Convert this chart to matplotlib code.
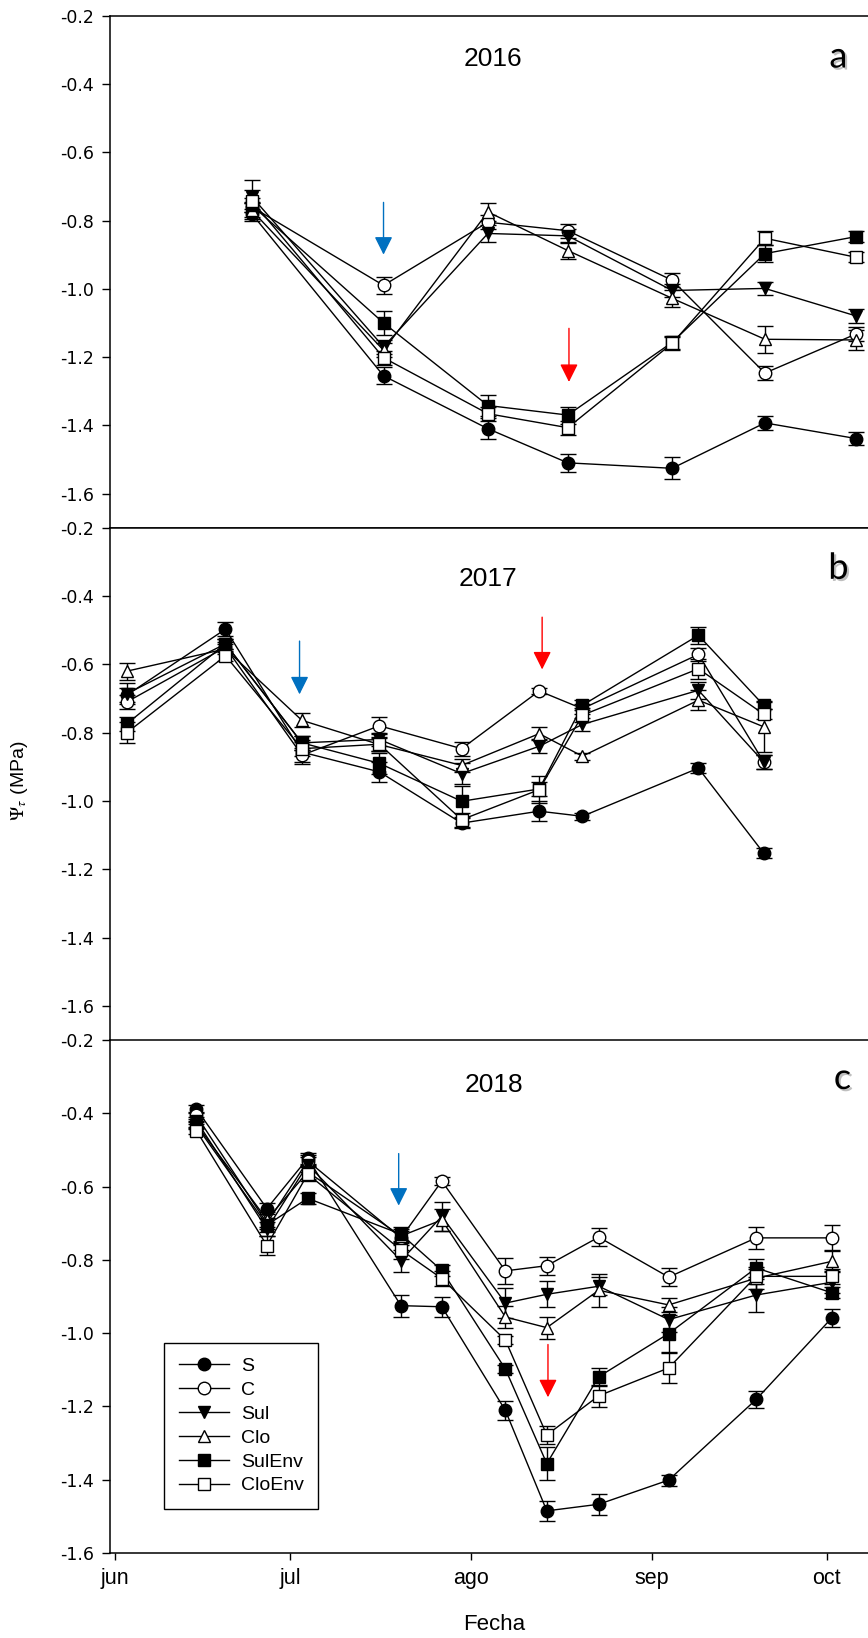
import matplotlib
matplotlib.use("Agg")
import matplotlib.pyplot as plt
import matplotlib.patheffects as pe

plt.rcParams["font.family"] = ["Liberation Sans", "DejaVu Sans"]
plt.rcParams["mathtext.fontset"] = "stix"

SERIES = ["S", "C", "Sul", "Clo", "SulEnv", "CloEnv"]
MARKERS = {"S": ("o", "black"), "C": ("o", "white"), "Sul": ("v", "black"),
           "Clo": ("^", "white"), "SulEnv": ("s", "black"), "CloEnv": ("s", "white")}

# days counted from 1 June
MONTH_TICKS = [0, 30, 61, 92, 122]
MONTH_LABELS = ["jun", "jul", "ago", "sep", "oct"]
Y_TICKS = [-0.2, -0.4, -0.6, -0.8, -1.0, -1.2, -1.4, -1.6]

# 2016
days_2016 = [23.4, 46.0, 63.9, 77.6, 95.5, 111.4, 127.1]
vals_2016 = {
    "S":      [-0.78, -1.255, -1.41, -1.51, -1.526, -1.393, -1.439],
    "C":      [-0.76, -0.99, -0.805, -0.83, -0.975, -1.247, -1.132],
    "Sul":    [-0.73, -1.17, -0.838, -0.845, -1.005, -0.999, -1.08],
    "Clo":    [-0.77, -1.18, -0.775, -0.888, -1.028, -1.148, -1.15],
    "SulEnv": [-0.755, -1.10, -1.342, -1.37, -1.157, -0.897, -0.847],
    "CloEnv": [-0.742, -1.202, -1.366, -1.407, -1.16, -0.852, -0.908],
}
err_2016 = {
    "S":      [0.015, 0.025, 0.03, 0.027, 0.032, 0.02, 0.02],
    "C":      [0.015, 0.025, 0.02, 0.02, 0.02, 0.02, 0.02],
    "Sul":    [0.02, 0.02, 0.025, 0.02, 0.02, 0.02, 0.02],
    "Clo":    [0.02, 0.02, 0.025, 0.025, 0.025, 0.04, 0.03],
    "SulEnv": [0.02, 0.035, 0.03, 0.025, 0.02, 0.025, 0.015],
    "CloEnv": [0.06, 0.02, 0.02, 0.02, 0.02, 0.02, 0.015],
}

# 2017
days_2017 = [2.0, 18.9, 32.0, 45.3, 59.4, 72.7, 80.1, 100.0, 111.2]
vals_2017 = {
    "S":      [-0.69, -0.497, -0.857, -0.915, -1.065, -1.03, -1.045, -0.904, -1.153],
    "C":      [-0.71, -0.55, -0.866, -0.78, -0.847, -0.678, -0.73, -0.571, -0.886],
    "Sul":    [-0.686, -0.54, -0.83, -0.82, -0.92, -0.84, -0.776, -0.676, -0.886],
    "Clo":    [-0.62, -0.555, -0.764, -0.835, -0.896, -0.803, -0.869, -0.705, -0.783],
    "SulEnv": [-0.774, -0.54, -0.83, -0.89, -1.001, -0.965, -0.72, -0.515, -0.72],
    "CloEnv": [-0.80, -0.575, -0.847, -0.834, -1.055, -0.967, -0.749, -0.613, -0.746],
}
err_2017 = {
    "S":      [0.02, 0.02, 0.035, 0.03, 0.015, 0.03, 0.01, 0.015, 0.015],
    "C":      [0.02, 0.015, 0.02, 0.025, 0.02, 0.01, 0.015, 0.02, 0.02],
    "Sul":    [0.03, 0.015, 0.02, 0.02, 0.03, 0.02, 0.02, 0.025, 0.02],
    "Clo":    [0.025, 0.015, 0.02, 0.02, 0.02, 0.02, 0.01, 0.03, 0.075],
    "SulEnv": [0.02, 0.015, 0.02, 0.03, 0.045, 0.02, 0.015, 0.025, 0.01],
    "CloEnv": [0.03, 0.015, 0.02, 0.02, 0.02, 0.04, 0.02, 0.03, 0.015],
}

# 2018
days_2018 = [13.9, 26.0, 33.0, 49.0, 56.0, 66.9, 74.0, 82.9, 94.9, 109.9, 122.9]
vals_2018 = {
    "S":      [-0.388, -0.66, -0.523, -0.925, -0.928, -1.211, -1.485, -1.467, -1.401, -1.181, -0.958],
    "C":      [-0.406, -0.70, -0.53, -0.74, -0.585, -0.83, -0.816, -0.738, -0.847, -0.74, -0.74],
    "Sul":    [-0.42, -0.716, -0.54, -0.802, -0.681, -0.918, -0.894, -0.872, -0.963, -0.896, -0.861],
    "Clo":    [-0.43, -0.69, -0.56, -0.735, -0.691, -0.956, -0.985, -0.883, -0.923, -0.85, -0.804],
    "SulEnv": [-0.434, -0.705, -0.632, -0.73, -0.829, -1.098, -1.356, -1.119, -1.001, -0.822, -0.89],
    "CloEnv": [-0.447, -0.761, -0.566, -0.773, -0.851, -1.019, -1.278, -1.171, -1.095, -0.845, -0.845],
}
err_2018 = {
    "S":      [0.01, 0.015, 0.015, 0.03, 0.027, 0.025, 0.028, 0.028, 0.015, 0.022, 0.025],
    "C":      [0.01, 0.015, 0.015, 0.02, 0.01, 0.035, 0.025, 0.025, 0.025, 0.03, 0.035],
    "Sul":    [0.01, 0.02, 0.02, 0.03, 0.04, 0.04, 0.035, 0.025, 0.035, 0.045, 0.03],
    "Clo":    [0.01, 0.02, 0.02, 0.02, 0.03, 0.03, 0.03, 0.045, 0.02, 0.03, 0.03],
    "SulEnv": [0.01, 0.02, 0.015, 0.02, 0.015, 0.01, 0.045, 0.025, 0.05, 0.025, 0.015],
    "CloEnv": [0.01, 0.025, 0.02, 0.025, 0.02, 0.01, 0.025, 0.03, 0.04, 0.02, 0.02],
}

# arrows: (day, tail, tip)
blue_arrows = [(46.0, -0.747, -0.900), (31.6, -0.532, -0.688), (48.6, -0.510, -0.652)]
red_arrows = [(77.8, -1.116, -1.273), (73.2, -0.462, -0.615), (74.2, -1.031, -1.175)]
years = ["2016", "2017", "2018"]
year_pos = [(64.7, -0.328), (63.9, -0.349), (65.0, -0.324)]
letters = ["a", "b", "c"]
letter_pos = [(124.0, -0.321), (124.0, -0.319), (124.7, -0.305)]
top_ticks_a = [4.3 + 15.81 * k for k in range(8)]

W, H = 868, 1638
fig = plt.figure(figsize=(W / 100, H / 100), dpi=100)
left = 109.5 / W
width = 1 - left
bounds = [(15.7, 527.7), (527.7, 1040.0), (1040.0, 1553.0)]
ylims = [(-1.7, -0.2), (-1.7, -0.2), (-1.6, -0.2)]
panels = [(days_2016, vals_2016, err_2016), (days_2017, vals_2017, err_2017),
          (days_2018, vals_2018, err_2018)]

axes = []
for i, ((top, bot), (days, vals, errs)) in enumerate(zip(bounds, panels)):
    ax = fig.add_axes([left, 1 - bot / H, width, (bot - top) / H])
    axes.append(ax)
    for name in SERIES:
        m, fc = MARKERS[name]
        ms = 8.5 if m == "s" else 9
        ax.errorbar(days, vals[name], yerr=errs[name], fmt="none", ecolor="black",
                    elinewidth=1.0, capsize=5.5, capthick=1.0, zorder=2)
        ax.plot(days, vals[name], color="black", lw=1.0, marker=m, ms=ms,
                mfc=fc, mec="black", mew=1.0, zorder=3, label=name)
    ax.set_xlim(-0.99, 129.08)
    ax.set_ylim(*ylims[i])
    ax.set_yticks(Y_TICKS)
    ax.set_yticklabels([f"{v:.1f}" for v in Y_TICKS], family="DejaVu Sans", fontsize=12.5)
    ax.tick_params(axis="y", direction="out", length=6, width=1.0, pad=5)
    ax.spines["right"].set_visible(False)
    for s in ax.spines.values():
        s.set_linewidth(1.1)

    d, y0, y1 = blue_arrows[i]
    ax.annotate("", xy=(d, y1), xytext=(d, y0),
                arrowprops=dict(arrowstyle="-|>,head_length=1.1,head_width=0.55",
                                color="#0070C0", lw=1.0, shrinkA=0, shrinkB=0))
    d, y0, y1 = red_arrows[i]
    ax.annotate("", xy=(d, y1), xytext=(d, y0),
                arrowprops=dict(arrowstyle="-|>,head_length=1.1,head_width=0.55",
                                color="#FF0000", lw=1.0, shrinkA=0, shrinkB=0))
    ax.text(*year_pos[i], years[i], fontsize=19, ha="center", va="center")
    ax.text(*letter_pos[i], letters[i], fontsize=26, ha="center", va="center",
            family=["Lato", "DejaVu Sans"],
            path_effects=[pe.SimplePatchShadow(offset=(1.5, -1.5), shadow_rgbFace="0.5", alpha=0.5),
                          pe.Normal()])

ax_a, ax_b, ax_c = axes
ax_a.set_xticks(top_ticks_a)
ax_a.tick_params(axis="x", direction="out", length=6, width=1.0, labelbottom=False)
ax_b.spines["bottom"].set_visible(False)
ax_b.set_xticks([])
ax_c.set_xticks(MONTH_TICKS)
ax_c.set_xticklabels(MONTH_LABELS, fontsize=15.5)
ax_c.tick_params(axis="x", direction="out", length=5, width=1.0, pad=6)

leg = ax_c.legend(loc="upper left", bbox_to_anchor=(164 / W, 1 - 1343 / H),
                  bbox_transform=fig.transFigure, fontsize=14, frameon=True,
                  fancybox=False, edgecolor="black", framealpha=1, borderpad=0.75,
                  handlelength=2.6, handletextpad=0.6, labelspacing=0.32,
                  borderaxespad=0)
leg.get_frame().set_linewidth(1.0)

fig.text(20 / W, 1 - 781 / H, r"$\Psi_{\tau}$ (MPa)", rotation=90, ha="center",
         va="center", fontsize=14)
fig.text(494 / W, 1 - 1625 / H, "Fecha", ha="center", va="center", fontsize=16)

fig.savefig("out.png", dpi=100)
